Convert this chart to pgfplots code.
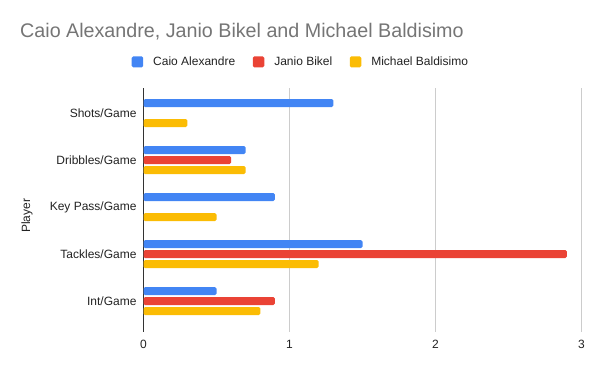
\documentclass[border=0pt]{standalone}
\usepackage{fontspec}
\setmainfont{Liberation Sans}
\usepackage{pgfplots}
\pgfplotsset{compat=1.18}
\definecolor{caio}{HTML}{4285F4}
\definecolor{janio}{HTML}{EA4335}
\definecolor{michael}{HTML}{FBBC04}
\definecolor{titlegray}{HTML}{757575}
\definecolor{txt}{HTML}{222222}
\definecolor{gridc}{HTML}{CCCCCC}
\definecolor{axisc}{HTML}{333333}
\begin{document}
\begin{tikzpicture}
\path[use as bounding box] (0,0) rectangle (600bp,371bp);
\node[anchor=base west, text=titlegray, inner sep=0pt, font=\fontsize{19.7bp}{22bp}\selectfont] at (20bp,333.3bp) {Caio Alexandre, Janio Bikel and Michael Baldisimo};
\begin{axis}[
  at={(143.5bp,39.3bp)}, anchor=south west,
  scale only axis, width=438bp, height=243.7bp,
  xbar, bar width=8bp, bar shift=0pt,
  xmin=0, xmax=3, ymin=-0.532, ymax=4.653,
  y dir=reverse,
  xtick={0,1,2,3},
  ytick={0,1,2,3,4},
  yticklabels={Shots/Game,Dribbles/Game,Key Pass/Game,Tackles/Game,Int/Game},
  major tick length=0pt,
  axis y line*=left, axis x line*=bottom,
  x axis line style={draw=none},
  y axis line style={draw=axisc, line width=1bp, -},
  xmajorgrids, grid style={gridc, line width=1bp},
  /pgf/number format/assume math mode=true,
  tick label style={font=\fontsize{12bp}{14bp}\selectfont, text=txt},
  yticklabel style={inner sep=0pt, xshift=-6.8bp},
  xticklabel style={inner sep=0pt, yshift=-8.3bp},
  ylabel={Player},
  ylabel style={at={(axis description cs:-0.259,0.475)}, anchor=base, inner sep=0pt, font=\fontsize{12bp}{14bp}\selectfont, text=txt},
  legend columns=3,
  legend style={at={(axis description cs:0.357,1.107)}, anchor=center, draw=none, fill=none,
    font=\fontsize{12bp}{14bp}\selectfont, text=txt,
    nodes={inner sep=0pt},
    /tikz/every odd column/.append style={column sep=10bp},
    /tikz/every even column/.append style={column sep=17.5bp}},
  legend cell align=left,
  legend image code/.code={\fill[#1, rounded corners=1.5bp] (0bp,-5.5bp) rectangle (11.5bp,5.5bp);},
]
\addplot[fill=caio, draw=none, rounded corners=1.5bp] coordinates {(1.3,-0.2128) (0.7,0.7872) (0.9,1.7872) (1.5,2.7872) (0.5,3.7872)};
\addlegendentry{Caio Alexandre}
\addplot[fill=janio, draw=none, rounded corners=1.5bp] coordinates {(0.6,1) (2.9,3) (0.9,4)};
\addlegendentry{Janio Bikel}
\addplot[fill=michael, draw=none, rounded corners=1.5bp] coordinates {(0.3,0.2128) (0.7,1.2128) (0.5,2.2128) (1.2,3.2128) (0.8,4.2128)};
\addlegendentry{Michael Baldisimo}
\end{axis}
\end{tikzpicture}
\end{document}
